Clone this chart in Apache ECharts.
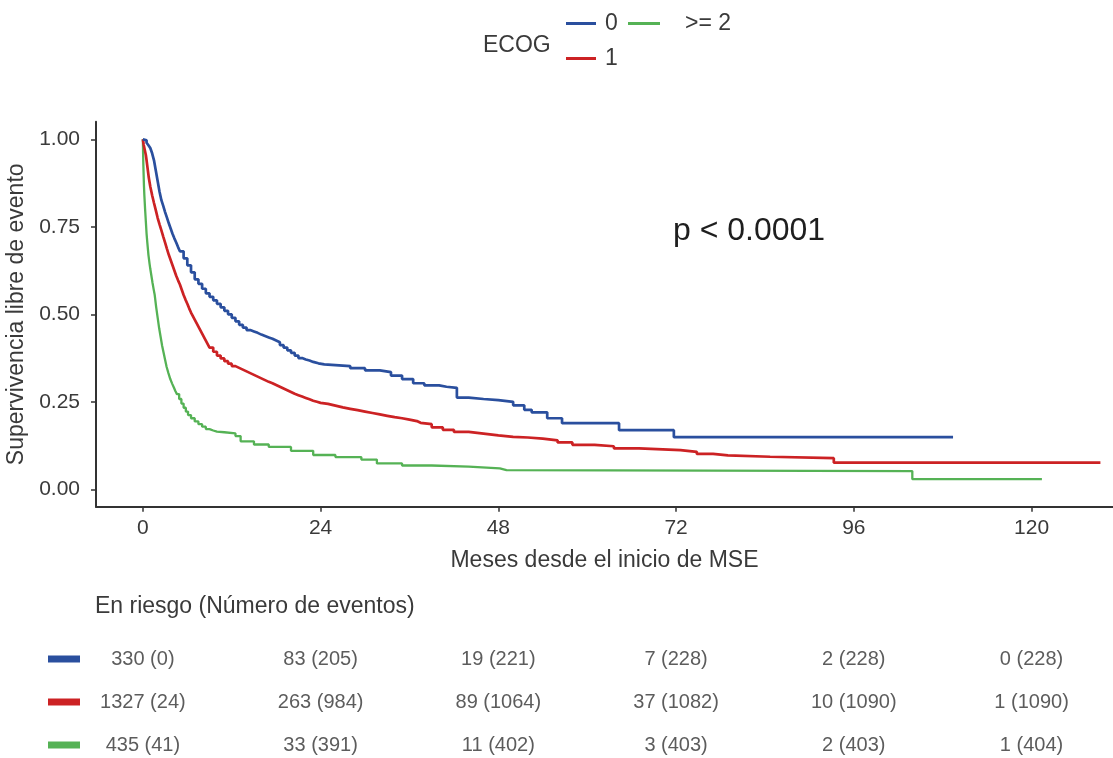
<!DOCTYPE html>
<html>
<head>
<meta charset="utf-8">
<script src="https://cdn.jsdelivr.net/npm/echarts@6/dist/echarts.min.js"></script>
<style>
  html, body { margin: 0; padding: 0; background: #ffffff; }
  #chart { width: 1113px; height: 758px; }
</style>
</head>
<body>
<div id="chart"></div>
<script>
// ECOG groups and their colours
const groups = ['0', '1', '>= 2'];
const groupColors = ['#2a4f9e', '#cc2224', '#55b255'];

// Axis tick values
const monthTicks = [0, 24, 48, 72, 96, 120];
const survTicks = [0, 0.25, 0.5, 0.75, 1];

// Kaplan-Meier estimates: [months, event-free survival]
const kmEcog0 = [[0,1],[0.25,0.997],[0.5,0.99],[0.75,0.983],[1,0.975],[1.25,0.96],[1.5,0.94],[1.75,0.91],[2,0.88],[2.25,0.85],[2.5,0.826],[2.75,0.81],[3,0.792],[3.25,0.776],[3.5,0.76],[3.75,0.745],[4,0.73],[4.25,0.717],[4.5,0.705],[4.75,0.692],[5,0.68],[5.5,0.66],[6,0.64],[6.5,0.62],[7,0.6],[7.5,0.587],[8,0.573],[8.5,0.56],[9,0.55],[9.5,0.54],[10,0.53],[10.5,0.52],[11,0.51],[11.5,0.5],[12,0.49],[12.5,0.48],[13,0.47],[13.5,0.462],[14,0.455],[14.5,0.451],[15,0.447],[15.5,0.442],[16,0.438],[16.5,0.434],[17,0.43],[17.5,0.425],[18,0.42],[18.5,0.412],[19,0.405],[19.5,0.397],[20,0.39],[20.5,0.382],[21,0.375],[21.5,0.371],[22,0.368],[22.5,0.364],[23,0.36],[23.7,0.357],[24.5,0.355],[26,0.352],[28,0.346],[30,0.34],[32,0.335],[33.5,0.325],[35,0.315],[36.5,0.303],[38,0.297],[40,0.293],[41,0.29],[42.4,0.262],[44,0.258],[46,0.255],[48,0.25],[50,0.24],[51.5,0.227],[52.5,0.22],[54.6,0.203],[56.6,0.189],[64.3,0.169],[71.7,0.149],[109.4,0.149]];
const kmEcog1 = [[0,1],[0.1,0.985],[0.25,0.97],[0.4,0.955],[0.5,0.94],[0.65,0.915],[0.8,0.89],[1,0.865],[1.25,0.84],[1.5,0.818],[1.75,0.797],[2,0.775],[2.25,0.757],[2.5,0.74],[2.75,0.722],[3,0.705],[3.25,0.687],[3.5,0.67],[3.75,0.655],[4,0.64],[4.25,0.625],[4.5,0.61],[4.75,0.597],[5,0.585],[5.25,0.57],[5.5,0.555],[5.75,0.542],[6,0.53],[6.25,0.517],[6.5,0.505],[6.75,0.495],[7,0.485],[7.25,0.475],[7.5,0.465],[7.75,0.455],[8,0.445],[8.25,0.435],[8.5,0.425],[8.75,0.415],[9,0.405],[9.5,0.393],[10,0.382],[10.5,0.374],[11,0.366],[11.5,0.359],[12,0.352],[12.5,0.347],[13,0.342],[13.5,0.337],[14,0.332],[14.5,0.327],[15,0.322],[15.5,0.317],[16,0.312],[16.5,0.307],[17,0.303],[17.5,0.298],[18,0.293],[18.5,0.288],[19,0.283],[19.5,0.278],[20,0.273],[20.5,0.269],[21,0.265],[21.5,0.261],[22,0.257],[22.5,0.253],[23,0.25],[23.5,0.247],[24,0.244],[25,0.239],[26,0.234],[27,0.23],[28,0.226],[29,0.222],[30,0.218],[31,0.214],[32,0.21],[33,0.206],[34,0.203],[35,0.199],[36,0.195],[37,0.19],[37.5,0.186],[39,0.177],[40.5,0.17],[42,0.164],[44,0.159],[46,0.154],[48,0.15],[50,0.148],[52,0.145],[54,0.14],[56,0.134],[58,0.127],[61,0.123],[63.6,0.117],[67,0.112],[72.6,0.107],[74.8,0.101],[77,0.097],[79,0.093],[84.7,0.089],[93.3,0.076],[129.3,0.076]];
const kmEcog2 = [[0,1],[0.03,0.96],[0.06,0.93],[0.1,0.9],[0.15,0.865],[0.2,0.84],[0.3,0.8],[0.4,0.765],[0.5,0.73],[0.6,0.705],[0.75,0.67],[0.9,0.645],[1,0.63],[1.15,0.61],[1.3,0.59],[1.45,0.572],[1.6,0.555],[1.8,0.52],[2,0.49],[2.2,0.46],[2.4,0.435],[2.6,0.41],[2.8,0.39],[3,0.37],[3.2,0.35],[3.45,0.332],[3.7,0.315],[3.95,0.302],[4.2,0.29],[4.4,0.28],[4.6,0.272],[4.9,0.258],[5.2,0.245],[5.5,0.233],[5.8,0.222],[6.1,0.212],[6.5,0.203],[7,0.194],[7.5,0.186],[8,0.179],[8.5,0.172],[9,0.168],[9.5,0.165],[10,0.163],[11,0.16],[12.5,0.152],[13.2,0.137],[15,0.128],[17,0.121],[20,0.11],[23,0.098],[26,0.092],[29.5,0.085],[31.6,0.074],[35,0.068],[39,0.065],[44,0.06],[48.2,0.055],[49.1,0.052],[103.9,0.029],[121.4,0.029]];

// Number at risk and cumulative events at each month tick
const atRisk0 = [330, 83, 19, 7, 2, 0];
const events0 = [0, 205, 221, 228, 228, 228];
const atRisk1 = [1327, 263, 89, 37, 10, 1];
const events1 = [24, 984, 1064, 1082, 1090, 1090];
const atRisk2 = [435, 33, 11, 3, 2, 1];
const events2 = [41, 391, 402, 403, 403, 404];

const pValueText = 'p < 0.0001';

const FONT = '"Liberation Sans", Arial, sans-serif';
const TXT = '#3a3a3a';
const X_MIN = -6.33, X_MAX = 131;

const kmSeries = [kmEcog0, kmEcog1, kmEcog2].map((d, i) => ({
  type: 'line',
  name: groups[i],
  xAxisIndex: 0,
  yAxisIndex: 0,
  data: d,
  step: 'end',
  showSymbol: false,
  symbol: 'none',
  lineStyle: { color: groupColors[i], width: i === 2 ? 2.3 : 2.7 },
  itemStyle: { color: groupColors[i] },
  z: 3 - i
}));

const riskRows = [[atRisk0, events0], [atRisk1, events1], [atRisk2, events2]];
const riskData = [];
riskRows.forEach((row, g) => {
  monthTicks.forEach((m, i) => {
    riskData.push({ value: [m, groups[g]], text: row[0][i] + ' (' + row[1][i] + ')' });
  });
});

const swatchRich = {};
groups.forEach((g, i) => {
  swatchRich['s' + i] = { width: 32, height: 7, backgroundColor: groupColors[i] };
});

const chart = echarts.init(document.getElementById('chart'), null, { renderer: 'canvas' });
chart.setOption({
  animation: false,
  backgroundColor: '#ffffff',
  textStyle: { fontFamily: FONT },
  legend: [
    {
      data: ['0', '1'],
      orient: 'vertical',
      left: 566, top: 12, padding: 0,
      itemWidth: 30, itemHeight: 3, itemGap: 12,
      icon: 'rect',
      textStyle: { fontSize: 23, color: TXT, fontFamily: FONT, padding: [0, 0, 0, 4] },
      selectedMode: false
    },
    {
      data: ['>= 2'],
      orient: 'vertical',
      left: 628, top: 12, padding: 0,
      itemWidth: 32, itemHeight: 3,
      icon: 'rect',
      textStyle: { fontSize: 23, color: TXT, fontFamily: FONT, padding: [0, 0, 0, 20] },
      selectedMode: false
    }
  ],
  graphic: [
    { type: 'text', x: 483, y: 46, style: { text: 'ECOG', fontSize: 23, fontFamily: FONT, fill: TXT, verticalAlign: 'middle' } },
    { type: 'text', x: 673, y: 231, style: { text: pValueText, fontSize: 32, fontFamily: FONT, fill: '#1e1e1e', verticalAlign: 'middle' } },
    { type: 'text', x: 95, y: 607, style: { text: 'En riesgo (Número de eventos)', fontSize: 23, fontFamily: FONT, fill: TXT, verticalAlign: 'middle' } }
  ],
  grid: [
    { left: 96, right: 0, top: 121.8, bottom: 251.2, containLabel: false, outerBoundsMode: 'none' },
    { left: 96, right: 0, top: 637.5, height: 129, containLabel: false, outerBoundsMode: 'none' }
  ],
  xAxis: [
    {
      type: 'value', gridIndex: 0, min: X_MIN, max: X_MAX,
      name: 'Meses desde el inicio de MSE', nameLocation: 'middle', nameGap: 42,
      nameTextStyle: { fontSize: 23, color: TXT, fontFamily: FONT },
      axisLine: { show: true, onZero: false, lineStyle: { color: '#333', width: 2 } },
      axisTick: { show: true, length: 5, customValues: monthTicks, lineStyle: { color: '#333', width: 1.5 } },
      axisLabel: { customValues: monthTicks, fontSize: 21, color: TXT, margin: 11, fontFamily: FONT },
      splitLine: { show: false }
    },
    {
      type: 'value', gridIndex: 1, min: X_MIN, max: X_MAX, show: false
    }
  ],
  yAxis: [
    {
      type: 'value', gridIndex: 0, min: -0.05, max: 1.05,
      name: 'Supervivencia libre de evento', nameLocation: 'middle', nameGap: 58, nameRotate: 90,
      nameTextStyle: { fontSize: 23, color: TXT, fontFamily: FONT },
      axisLine: { show: true, onZero: false, lineStyle: { color: '#333', width: 2 } },
      axisTick: { show: true, length: 5, customValues: survTicks, lineStyle: { color: '#333', width: 1.5 } },
      axisLabel: { customValues: survTicks, fontSize: 21, color: TXT, margin: 16, fontFamily: FONT,
                   formatter: v => v.toFixed(2) },
      splitLine: { show: false }
    },
    {
      type: 'category', gridIndex: 1, data: groups, inverse: true,
      axisLine: { show: false }, axisTick: { show: false }, splitLine: { show: false },
      axisLabel: {
        margin: 16,
        formatter: (v, idx) => '{s' + idx + '| }',
        rich: swatchRich
      }
    }
  ],
  series: kmSeries.concat([{
    type: 'scatter',
    name: 'riesgo',
    xAxisIndex: 1,
    yAxisIndex: 1,
    data: riskData,
    symbolSize: 0,
    silent: true,
    label: {
      show: true, position: 'inside',
      formatter: p => p.data.text,
      fontSize: 20, color: '#333', fontFamily: FONT
    }
  }])
});
</script>
</body>
</html>
